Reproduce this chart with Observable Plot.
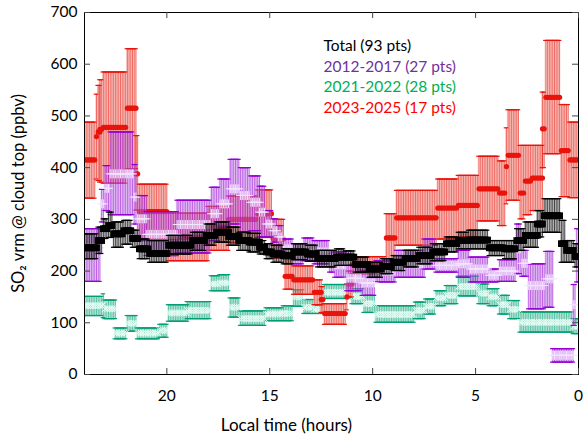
<!DOCTYPE html>
<html><head><meta charset="utf-8">
<script src="https://cdn.jsdelivr.net/npm/d3@7"></script>
<script src="https://cdn.jsdelivr.net/npm/@observablehq/plot@0.6"></script>
<style>body{margin:0;background:#fff} svg{display:block}</style>
</head><body>
<script>
const xTicks = [20, 15, 10, 5, 0];
const yTicks = [0, 100, 200, 300, 400, 500, 600, 700];
const legendLabels = ["Total (93 pts)", "2012-2017 (27 pts)", "2021-2022 (28 pts)", "2023-2025 (17 pts)"];
const legendColors = ["#000000", "#7030A0", "#00B050", "#FF0000"];

// Running-window segments: [hourStart, hourEnd, mean, low, high]
const totalSegs = [
  [24.0, 23.4, 245, 224, 272], [23.4, 23.1, 259, 234, 285], [23.1, 22.85, 282, 263, 301],
  [22.85, 22.6, 288, 265, 314], [22.6, 22.1, 272, 246, 295], [22.1, 21.7, 278, 252, 298],
  [21.7, 21.4, 263, 246, 279], [21.4, 20.9, 243, 224, 262], [20.9, 19.95, 234, 217, 259],
  [19.95, 18.8, 250, 233, 269], [18.8, 18.1, 259, 240, 275], [18.1, 17.6, 269, 250, 291],
  [17.6, 17.0, 275, 256, 295], [17.0, 16.5, 267, 250, 285], [16.5, 16.0, 259, 240, 275],
  [16.0, 15.5, 256, 237, 273], [15.5, 15.17, 246, 233, 259], [15.17, 14.85, 237, 224, 253],
  [14.85, 14.36, 233, 217, 250], [14.36, 13.87, 230, 214, 243], [13.87, 13.22, 237, 222, 253],
  [13.22, 12.73, 233, 219, 250], [12.73, 11.76, 224, 208, 240], [11.76, 11.35, 227, 211, 243],
  [11.35, 10.86, 227, 211, 239], [10.86, 10.2, 213, 198, 227], [10.2, 9.56, 204, 188, 217],
  [9.56, 9.07, 209, 195, 224], [9.07, 8.42, 217, 201, 230], [8.42, 7.77, 224, 208, 240],
  [7.77, 7.12, 230, 214, 246], [7.12, 6.47, 237, 220, 253], [6.47, 5.9, 253, 237, 266],
  [5.9, 5.4, 259, 243, 275], [5.4, 4.36, 260, 243, 279], [4.36, 3.6, 245, 230, 259],
  [3.6, 3.06, 243, 224, 259], [3.06, 2.65, 259, 240, 282], [2.65, 2.0, 269, 246, 295],
  [2.0, 1.67, 291, 266, 317], [1.67, 0.9, 307, 275, 340], [0.9, 0.62, 253, 217, 298],
  [0.62, 0.21, 240, 217, 259], [0.21, 0.0, 228, 208, 253]
];
const s2012Segs = [
  [24.0, 23.2, 245, 180, 282], [23.2, 23.05, 330, 295, 358], [23.05, 22.8, 360, 317, 404],
  [22.8, 21.65, 388, 309, 469], [21.65, 21.45, 343, 291, 406], [21.45, 21.0, 301, 259, 346],
  [21.0, 19.5, 271, 230, 315], [19.5, 17.9, 290, 235, 337], [17.9, 17.45, 311, 259, 362],
  [17.45, 16.96, 330, 285, 378], [16.96, 16.47, 359, 291, 416], [16.47, 15.98, 346, 275, 400],
  [15.98, 15.5, 333, 278, 384], [15.5, 15.17, 314, 266, 364], [15.17, 14.9, 291, 266, 317],
  [14.9, 14.6, 278, 256, 301], [14.6, 14.36, 266, 240, 288], [14.36, 13.87, 243, 224, 262],
  [13.87, 13.4, 235, 214, 253], [13.4, 12.9, 242, 220, 264], [12.9, 12.16, 237, 214, 259],
  [12.16, 11.84, 217, 198, 237], [11.84, 11.27, 212, 188, 237], [11.27, 10.54, 186, 162, 211],
  [10.54, 9.9, 177, 153, 201], [9.9, 8.9, 200, 179, 220], [8.9, 7.5, 214, 188, 240],
  [7.5, 6.96, 233, 204, 262], [6.96, 5.9, 211, 198, 224], [5.9, 5.33, 214, 188, 240],
  [5.33, 4.4, 204, 179, 227], [4.4, 3.87, 192, 179, 204], [3.87, 3.06, 200, 180, 222],
  [3.06, 2.8, 243, 195, 291], [2.8, 2.49, 215, 190, 240], [2.49, 1.65, 172, 127, 214],
  [1.65, 1.2, 185, 130, 238], [1.27, 0.2, 37, 24, 50], [0.29, 0.13, 135, 95, 174],
  [0.16, 0.0, 230, 179, 282]
];
const s2021Segs = [
  [24.0, 23.14, 133, 114, 151], [23.14, 23.05, 135, 110, 156], [23.05, 22.5, 127, 108, 144],
  [22.5, 21.95, 80, 69, 90], [21.95, 21.45, 99, 84, 114], [21.45, 20.37, 80, 69, 90],
  [20.37, 19.95, 85, 72, 97], [19.95, 19.0, 119, 103, 135], [19.0, 17.9, 124, 108, 141],
  [17.9, 17.45, 175, 162, 191], [17.45, 16.96, 177, 162, 193], [16.96, 16.47, 130, 111, 148],
  [16.47, 15.17, 108, 95, 123], [15.17, 14.36, 117, 104, 129], [14.36, 13.87, 118, 104, 133],
  [13.87, 13.4, 150, 132, 164], [13.4, 12.9, 130, 118, 145], [12.9, 12.4, 126, 118, 135],
  [12.4, 11.0, 159, 147, 174], [11.0, 10.45, 151, 137, 166], [10.45, 9.9, 137, 120, 153],
  [9.9, 7.93, 116, 101, 133], [7.93, 7.45, 124, 108, 140], [7.45, 6.96, 132, 117, 146],
  [6.96, 6.47, 148, 133, 162], [6.47, 5.9, 153, 137, 172], [5.9, 4.85, 170, 152, 190],
  [4.85, 4.36, 157, 137, 175], [4.36, 3.87, 150, 133, 166], [3.87, 3.38, 135, 117, 153],
  [3.38, 2.89, 126, 108, 143], [2.89, 0.29, 101, 82, 121], [0.29, 0.0, 93, 79, 108]
];
const s2023Segs = [
  [24.0, 23.45, 415, 341, 488], [23.45, 23.35, 460, 378, 542], [23.35, 23.25, 469, 375, 559],
  [23.25, 23.14, 474, 372, 570], [23.14, 21.95, 478, 370, 585], [21.95, 21.5, 515, 398, 630],
  [21.5, 21.4, 388, 318, 462], [21.4, 19.95, 315, 262, 368], [19.95, 18.0, 265, 220, 312],
  [18.0, 17.0, 285, 240, 325], [17.0, 15.6, 300, 255, 345], [15.6, 14.9, 311, 265, 357],
  [14.9, 14.3, 262, 225, 300], [14.3, 13.85, 190, 165, 224], [13.85, 12.9, 183, 155, 210],
  [12.9, 12.5, 159, 135, 183], [12.5, 12.4, 145, 120, 170], [12.4, 11.3, 118, 97, 137],
  [11.3, 11.2, 150, 125, 175], [11.2, 11.0, 175, 150, 200], [11.0, 9.4, 212, 195, 228],
  [9.4, 8.9, 264, 220, 311], [8.9, 6.85, 303, 250, 356], [6.85, 5.85, 322, 262, 378],
  [5.85, 4.85, 327, 266, 385], [4.85, 3.87, 359, 297, 422], [3.87, 3.55, 351, 288, 413],
  [3.55, 3.45, 402, 330, 477], [3.45, 2.9, 424, 337, 512], [2.9, 2.65, 351, 301, 443],
  [2.65, 2.32, 374, 309, 443], [2.32, 1.75, 380, 317, 443], [1.75, 1.65, 475, 400, 546],
  [1.65, 0.86, 536, 427, 646], [0.86, 0.42, 433, 344, 522], [0.42, 0.0, 415, 342, 488]
];

const step = 1 / 12; // one error bar every 5 minutes
function expand(segs) {
  const out = [];
  for (const [a, b, mean, lo, hi] of segs) {
    const k0 = Math.ceil(b / step - 1e-6), k1 = Math.floor(a / step + 1e-6);
    for (let k = k0; k <= k1; k++) out.push({h: k * step, mean, lo, hi});
  }
  return out;
}

function seriesMarks(segs, stroke, fill, fillOpacity, lineWidth, marker) {
  const d = expand(segs);
  const cap = 0.11;
  return [
    Plot.rect(d, {x1: r => r.h + step / 2, x2: r => r.h - step / 2, y1: "lo", y2: "hi", fill, fillOpacity, clip: true}),
    Plot.ruleX(d, {x: "h", y1: "lo", y2: "hi", stroke, strokeWidth: lineWidth, clip: true}),
    Plot.ruleY(d, {y: "lo", x1: r => r.h + cap, x2: r => r.h - cap, stroke, strokeWidth: 1.2, clip: true}),
    Plot.ruleY(d, {y: "hi", x1: r => r.h + cap, x2: r => r.h - cap, stroke, strokeWidth: 1.2, clip: true}),
    Plot.dot(d, {x: "h", y: "mean", clip: true, ...marker})
  ];
}

const W = 584, H = 437, mL = 84, mR = 6, mT = 12, mB = 63;
const fw = W - mL - mR, fh = H - mT - mB;

const chart = Plot.plot({
  width: W, height: H,
  marginLeft: mL, marginRight: mR, marginTop: mT, marginBottom: mB,
  style: {fontFamily: "Lato, 'Open Sans', sans-serif", fontSize: "15px", color: "#000", background: "#fff"},
  x: {domain: [24, 0], ticks: xTicks},
  y: {domain: [0, 700], ticks: yTicks},
  marks: [
    ...seriesMarks(s2021Segs, "#009E73", "#8fd9c1", 0.45, 0.55, {symbol: "times", r: 3, stroke: "#e8fff7", strokeWidth: 1}),
    ...seriesMarks(s2023Segs, "#E8140C", "#f4a39a", 0.5, 0.55, {symbol: "circle", r: 2.6, fill: "#E8140C"}),
    ...seriesMarks(s2012Segs, "#9400D3", "#d4a6ee", 0.45, 0.55, {symbol: "plus", r: 3, stroke: "#f3e4ff", strokeWidth: 1}),
    ...seriesMarks(totalSegs, "#000000", "#8a8a8a", 0.3, 0.7, {symbol: "square", r: 3.8, fill: "#000000"}),
    Plot.frame({stroke: "#000", strokeWidth: 1}),
    Plot.tickX(xTicks, {x: d => d, insetTop: fh - 6, stroke: "#444"}),
    Plot.tickX(xTicks, {x: d => d, insetBottom: fh - 6, stroke: "#444"}),
    Plot.tickY(yTicks, {y: d => d, insetRight: fw - 6, stroke: "#444"}),
    Plot.tickY(yTicks, {y: d => d, insetLeft: fw - 6, stroke: "#444"}),
    Plot.axisX(xTicks, {tickSize: 0, tickPadding: 15, label: null, fontSize: 15.5}),
    Plot.axisY(yTicks, {tickSize: 0, tickPadding: 7, label: null, fontSize: 15.5}),
    Plot.text(["SO₂ vrm @ cloud top (ppbv)"], {frameAnchor: "left", rotate: -90, dx: -66, textAnchor: "middle", lineAnchor: "middle", fontSize: 16.5, fill: "#000"}),
    Plot.text(["Local time (hours)"], {frameAnchor: "bottom", dx: -45, dy: 51, fontSize: 17, fill: "#000", textAnchor: "middle", lineAnchor: "middle"}),
    ...legendLabels.map((t, i) => Plot.text([t], {frameAnchor: "top-left", dx: 239, dy: 34 + i * 20.4, textAnchor: "start", lineAnchor: "middle", fill: legendColors[i], fontSize: 15.5}))
  ]
});
document.body.appendChild(chart);
</script>
</body></html>
